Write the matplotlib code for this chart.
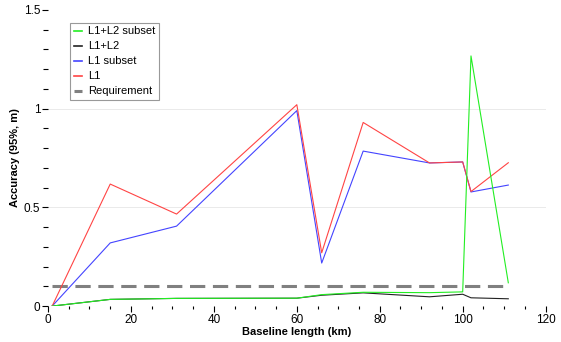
import numpy as np
import matplotlib
matplotlib.use("Agg")
import matplotlib.pyplot as plt
from matplotlib.ticker import MultipleLocator, FormatStrFormatter

plt.rcParams['font.family'] = ['Liberation Sans', 'DejaVu Sans']

# baseline lengths (km)
baseline = [1, 15, 31, 60, 66, 76, 92, 100, 102, 111]

# accuracy values (95%, m)
l1 = [0.0, 0.618, 0.466, 1.02, 0.27, 0.93, 0.725, 0.73, 0.58, 0.726]
l1_subset = [0.0, 0.32, 0.405, 0.99, 0.218, 0.785, 0.725, 0.73, 0.578, 0.613]
l1l2 = [0.0, 0.034, 0.039, 0.04, 0.055, 0.067, 0.047, 0.06, 0.042, 0.037]
l1l2_subset = [0.0, 0.034, 0.039, 0.04, 0.058, 0.07, 0.068, 0.072, 1.267, 0.118]
requirement = 0.1

fig = plt.figure(figsize=(5.61, 3.42), dpi=100)
ax = fig.add_axes([0.0856, 0.105, 0.887, 0.866])

ax.plot(baseline, l1l2_subset, color='#22ee22', linewidth=0.8, label='L1+L2 subset', zorder=4)
ax.plot(baseline, l1l2, color='#222222', linewidth=0.8, label='L1+L2', zorder=3)
ax.plot(baseline, l1_subset, color='#4444ff', linewidth=0.8, label='L1 subset', zorder=3)
ax.plot(baseline, l1, color='#ff4444', linewidth=0.8, label='L1', zorder=3)
ax.plot([baseline[0], baseline[-1]], [requirement, requirement], color='#808080',
        linewidth=2.2, dashes=(5, 2.5), label='Requirement', zorder=2)

ax.set_xlim(0, 120)
ax.set_ylim(0, 1.5)
ax.xaxis.set_major_locator(MultipleLocator(20))
ax.xaxis.set_minor_locator(MultipleLocator(5))
ax.yaxis.set_major_locator(MultipleLocator(0.5))
ax.yaxis.set_minor_locator(MultipleLocator(0.1))
ax.yaxis.set_major_formatter(FormatStrFormatter('%g'))
ax.tick_params(which='both', direction='out', labelsize=8.5, color='black', pad=1.5)
ax.tick_params(which='major', length=4, width=0.8)
ax.tick_params(axis='x', which='minor', length=2, width=0.8)
ax.tick_params(axis='y', which='minor', length=3.5, width=0.8)

for y in [0.5, 1.0]:
    ax.axhline(y, color='#e6e6e6', linewidth=0.6, zorder=0)

for s in ax.spines.values():
    s.set_visible(False)

ax.set_xlabel('Baseline length (km)', fontsize=8, fontweight='bold', labelpad=1)
ax.set_ylabel('Accuracy (95%, m)', fontsize=8, fontweight='bold', labelpad=3)

leg = ax.legend(loc='upper left', bbox_to_anchor=(0.039, 0.965), fontsize=8,
                handlelength=0.8, handletextpad=0.5, labelspacing=0.45,
                fancybox=False, edgecolor='#999999', framealpha=1,
                borderpad=0.35, borderaxespad=0.2)
leg.get_frame().set_linewidth(0.8)
for h in leg.get_lines()[:4]:
    h.set_linewidth(1.2)

fig.savefig('out.png', dpi=100)
